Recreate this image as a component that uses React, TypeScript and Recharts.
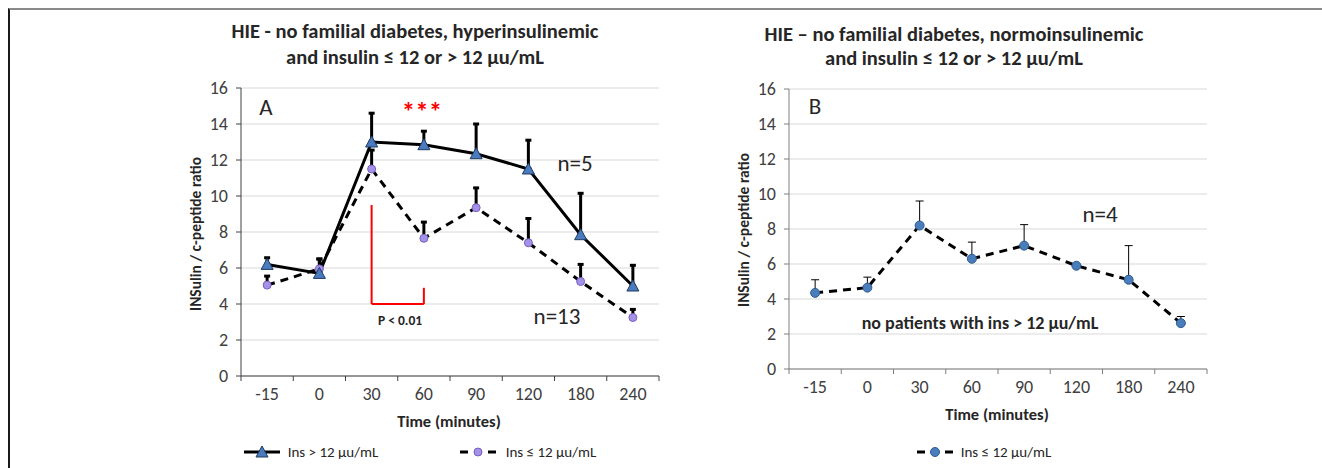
import { ComposedChart, Line, XAxis, YAxis, CartesianGrid, ErrorBar, ReferenceLine } from 'recharts';

const times = ['-15', '0', '30', '60', '90', '120', '180', '240'];
const yTicks = [0, 2, 4, 6, 8, 10, 12, 14, 16];

// panel A
const hyperMean = [6.2, 5.7, 13.0, 12.85, 12.35, 11.5, 7.85, 5.0];
const hyperSd = [0.37, 0.8, 1.6, 0.75, 1.65, 1.6, 2.3, 1.15];
const normoMean = [5.05, 5.95, 11.5, 7.65, 9.35, 7.4, 5.25, 3.25];
const normoSd = [0.5, 0.55, 1.05, 0.9, 1.1, 1.35, 0.95, 0.45];

// panel B
const bMean = [4.35, 4.65, 8.2, 6.3, 7.05, 5.9, 5.1, 2.62];
const bSd = [0.75, 0.6, 1.4, 0.95, 1.2, 0, 1.95, 0.38];

const dataA = times.map((t, i) => ({
  t,
  hyper: hyperMean[i],
  hyperErr: [0, hyperSd[i]],
  normo: normoMean[i],
  normoErr: [0, normoSd[i]],
}));
const dataB = times.map((t, i) => ({ t, v: bMean[i], err: [0, bSd[i]] }));

const FONT = "Carlito, Lato, 'Open Sans', sans-serif";
const CW = 700;
const CH = 468;
const TICK_FS = 18;

const Triangle = (props: any) => {
  const { cx, cy } = props;
  if (cx == null || cy == null) return null;
  return <polygon points={`${cx},${cy - 6} ${cx - 6},${cy + 5} ${cx + 6},${cy + 5}`} fill="#4a7bbf" stroke="#1f3a60" strokeWidth={1} />;
};

const makeBandTick = (axisColor: string) => (props: any) => {
  const { x, y, payload, index, visibleTicksCount } = props;
  const half = payload?.offset ?? 26;
  const ay = y - 8;
  const last = index === visibleTicksCount - 1;
  return (
    <g>
      <line x1={x - half} x2={x - half} y1={ay} y2={ay + 5} stroke={axisColor} strokeWidth={1} />
      {last && <line x1={x + half} x2={x + half} y1={ay} y2={ay + 5} stroke={axisColor} strokeWidth={1} />}
      <text x={x} y={ay + 20} textAnchor="middle" dominantBaseline="middle" fill="#404040" fontSize={TICK_FS} fontFamily={FONT}>
        {payload.value}
      </text>
    </g>
  );
};

function Txt({ x, y, children, size = 14, bold = false, color = '#262626', rotate = 0 }: any) {
  return (
    <div
      style={{
        position: 'absolute',
        left: x,
        top: y,
        transform: `translate(-50%, -50%) rotate(${rotate}deg)`,
        whiteSpace: 'nowrap',
        fontSize: size,
        fontWeight: bold ? 700 : 400,
        color,
        fontFamily: FONT,
        lineHeight: 1,
        textAlign: 'center',
      }}
    >
      {children}
    </div>
  );
}

function LegendIcon({ x, y, dashed, marker }: any) {
  return (
    <svg style={{ position: 'absolute', left: x, top: y - 8 }} width={40} height={16}>
      <line x1={2} x2={38} y1={8} y2={8} stroke="#000" strokeWidth={3} strokeDasharray={dashed ? '8 6' : undefined} />
      {marker === 'tri' && <polygon points="20,2 14,13 26,13" fill="#4a7bbf" stroke="#1f3a60" />}
      {marker === 'lav' && <circle cx={20} cy={8} r={4} fill="#a393e6" stroke="#7b5cc4" />}
      {marker === 'blue' && <circle cx={20} cy={8} r={4.5} fill="#4a7ebb" stroke="#2e5a94" />}
    </svg>
  );
}

const yTick = { fill: '#404040', fontSize: TICK_FS, fontFamily: FONT };

export default function App() {
  return (
    <div style={{ position: 'absolute', left: 0, top: 0, width: 1322, height: 468, background: '#fff', overflow: 'hidden', fontFamily: FONT }}>
      <div style={{ position: 'absolute', left: 8, top: 8, width: 1330, height: 470, borderTop: '2px solid #8a8a8a', borderLeft: '2px solid #1a1a1a' }} />

      {/* panel A */}
      <div style={{ position: 'absolute', left: 0, top: 0 }}>
        <ComposedChart width={CW} height={CH} data={dataA} margin={{ top: 88, right: 41, bottom: 62, left: 201 }}>
          <CartesianGrid vertical={false} stroke="#d9d9d9" />
          <XAxis dataKey="t" scale="band" tick={makeBandTick('#404040')} tickLine={false} axisLine={{ stroke: '#404040' }} height={30} interval={0} />
          <YAxis domain={[0, 16]} ticks={yTicks} width={40} tickSize={5} tickMargin={8} tickLine={{ stroke: '#404040' }} axisLine={{ stroke: '#404040' }} tick={yTick} />
          <ReferenceLine segment={[{ x: '30', y: 9.5 }, { x: '30', y: 4 }]} stroke="#ff0000" strokeWidth={2} ifOverflow="visible" />
          <ReferenceLine segment={[{ x: '30', y: 4 }, { x: '60', y: 4 }]} stroke="#ff0000" strokeWidth={2} ifOverflow="visible" />
          <ReferenceLine segment={[{ x: '60', y: 4 }, { x: '60', y: 4.9 }]} stroke="#ff0000" strokeWidth={2} ifOverflow="visible" />
          <Line dataKey="normo" stroke="#000" strokeWidth={3} strokeDasharray="8 6" isAnimationActive={false}
            dot={{ r: 4, fill: '#a393e6', stroke: '#7b5cc4', strokeWidth: 1, strokeDasharray: '' }} activeDot={false}>
            <ErrorBar dataKey="normoErr" direction="y" width={3} stroke="#000" strokeWidth={3} isAnimationActive={false} />
          </Line>
          <Line dataKey="hyper" stroke="#000" strokeWidth={3} isAnimationActive={false} dot={<Triangle />} activeDot={false}>
            <ErrorBar dataKey="hyperErr" direction="y" width={3} stroke="#000" strokeWidth={3} isAnimationActive={false} />
          </Line>
        </ComposedChart>
      </div>

      {/* panel B */}
      <div style={{ position: 'absolute', left: 548, top: 0 }}>
        <ComposedChart width={CW} height={CH} data={dataB} margin={{ top: 89, right: 41, bottom: 69, left: 201 }}>
          <CartesianGrid vertical={false} stroke="#d9d9d9" />
          <XAxis dataKey="t" scale="band" tick={makeBandTick('#7f7f7f')} tickLine={false} axisLine={{ stroke: '#7f7f7f' }} height={30} interval={0} />
          <YAxis domain={[0, 16]} ticks={yTicks} width={40} tickSize={5} tickMargin={8} tickLine={{ stroke: '#7f7f7f' }} axisLine={{ stroke: '#7f7f7f' }} tick={yTick} />
          <Line dataKey="v" stroke="#000" strokeWidth={3} strokeDasharray="8 6" isAnimationActive={false}
            dot={{ r: 4.5, fill: '#4a7ebb', stroke: '#2e5a94', strokeWidth: 1, strokeDasharray: '' }} activeDot={false}>
            <ErrorBar dataKey="err" direction="y" width={4} stroke="#000" strokeWidth={1} isAnimationActive={false} />
          </Line>
        </ComposedChart>
      </div>

      {/* titles */}
      <Txt x={415} y={31} size={20.5} bold>HIE - no familial diabetes, hyperinsulinemic</Txt>
      <Txt x={415} y={57} size={20.5} bold>and insulin ≤ 12 or &gt; 12 µu/mL</Txt>
      <Txt x={954} y={34} size={20.5} bold>HIE – no familial diabetes, normoinsulinemic</Txt>
      <Txt x={954} y={58} size={20.5} bold>and insulin ≤ 12 or &gt; 12 µu/mL</Txt>

      {/* axis titles */}
      <Txt x={196} y={234} size={15.5} bold rotate={-90}>INSulin / c-peptide ratio</Txt>
      <Txt x={744} y={230} size={15.5} bold rotate={-90}>INSulin / c-peptide ratio</Txt>
      <Txt x={449} y={421} size={16.5} bold>Time (minutes)</Txt>
      <Txt x={997} y={414} size={16.5} bold>Time (minutes)</Txt>

      {/* annotations */}
      <Txt x={266} y={107} size={23}>A</Txt>
      <Txt x={422} y={111} size={27} bold color="#ff0000">***</Txt>
      <Txt x={575} y={163} size={23}>n=5</Txt>
      <Txt x={557} y={316} size={23}>n=13</Txt>
      <Txt x={400} y={321} size={13.5} bold>P &lt; 0.01</Txt>
      <Txt x={815} y={106} size={23}>B</Txt>
      <Txt x={1100} y={214} size={23}>n=4</Txt>
      <Txt x={980} y={323} size={18} bold>no patients with ins &gt; 12 µu/mL</Txt>

      {/* legends */}
      <LegendIcon x={242} y={452} marker="tri" />
      <Txt x={333} y={452} size={15}>Ins &gt; 12 µu/mL</Txt>
      <LegendIcon x={458} y={452} dashed marker="lav" />
      <Txt x={551} y={452} size={15}>Ins ≤ 12 µu/mL</Txt>
      <LegendIcon x={915} y={452} dashed marker="blue" />
      <Txt x={1006} y={452} size={15}>Ins ≤ 12 µu/mL</Txt>
    </div>
  );
}
